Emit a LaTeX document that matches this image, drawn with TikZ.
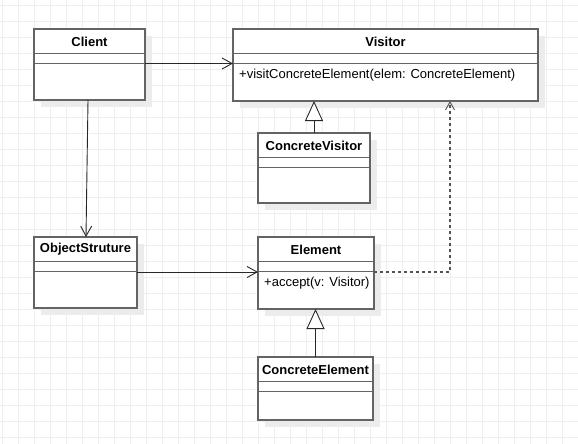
\documentclass[tikz,border=0pt]{standalone}
\usepackage{fontspec}
\setmainfont{Liberation Sans}
\usetikzlibrary{arrows.meta,calc,shadows}
\definecolor{gridc}{RGB}{239,239,239}
\definecolor{boxc}{RGB}{100,100,100}
\definecolor{shadc}{RGB}{236,236,236}
\definecolor{linec}{RGB}{40,40,40}
\tikzset{
  classbox/.style={draw=boxc, line width=1.6pt, fill=white, anchor=north west, inner sep=0pt, outer sep=0pt,
    drop shadow={shadow xshift=7pt, shadow yshift=-7pt, fill=shadc, opacity=1}},
  divider/.style={draw=boxc, line width=1.6pt},
  titletext/.style={font=\fontsize{13}{15}\selectfont\bfseries, inner sep=0pt},
  methodtext/.style={font=\fontsize{13}{15}\selectfont, inner sep=0pt, anchor=west},
  assoc/.style={draw=linec, line width=0.9pt, -{Straight Barb[length=10pt,width=11pt,line width=0.9pt]}},
  inherit/.style={draw=linec, line width=0.9pt, -{Triangle[open,length=20pt,width=18pt,line width=0.9pt,fill=white]}},
  depend/.style={draw=linec!80, line width=1.1pt, dash pattern=on 3pt off 3pt, -{Straight Barb[length=8pt,width=9pt,line width=0.9pt]}}
}
\newcommand{\umlclass}[7]{%
  \node[classbox, minimum width=#4, minimum height=#5] (#1) at (#2,#3) {};
  \draw[divider] ($(#1.north west)+(0,24.5)$) -- ($(#1.north east)+(0,24.5)$);
  \draw[divider] ($(#1.north west)+(0,34.5)$) -- ($(#1.north east)+(0,34.5)$);
  \node[titletext] at ($(#1.north)+(0,12.5)$) {#6};
  \node[methodtext] at ($(#1.north west)+(6,46)$) {#7};
}
\begin{document}
\begin{tikzpicture}[x=1pt,y=-1pt]
\useasboundingbox (0,0) rectangle (578,444);
\fill[white] (0,0) rectangle (578,444);
\foreach \gx in {0,...,35} {\draw[gridc, line width=0.8pt] (2.7+16*\gx,0) -- (2.7+16*\gx,444);}
\foreach \gy in {0,...,27} {\draw[gridc, line width=0.8pt] (0,5.3+16*\gy) -- (578,5.3+16*\gy);}

\umlclass{client}{34}{29}{111pt}{71pt}{Client}{}
\umlclass{visitor}{233}{29}{305pt}{72pt}{Visitor}{+visitConcreteElement(elem: ConcreteElement)}
\umlclass{cvisitor}{258}{133}{112pt}{70pt}{ConcreteVisitor}{}
\umlclass{ostruct}{34}{237}{103pt}{71pt}{ObjectStruture}{}
\umlclass{element}{258}{237}{116pt}{72pt}{Element}{+accept(v: Visitor)}
\umlclass{celement}{258}{357}{115pt}{63pt}{ConcreteElement}{}

\draw[assoc] ($(client.north east)+(0,34.5)$) -- ($(visitor.north west)+(0,34.5)$);
\draw[assoc] ($(client.south)+(-1.5,0)$) -- ($(ostruct.north)+(0.5,0)$);
\draw[assoc] ($(ostruct.north east)+(0,35)$) -- ($(element.north west)+(0,35)$);
\draw[inherit] (cvisitor.north) -- (cvisitor.north |- visitor.south);
\draw[inherit] (celement.north) -- (celement.north |- element.south);
\draw[depend] ($(element.north east)+(0,35)$) -| ($(visitor.south west)+(217,0)$);
\end{tikzpicture}
\end{document}
